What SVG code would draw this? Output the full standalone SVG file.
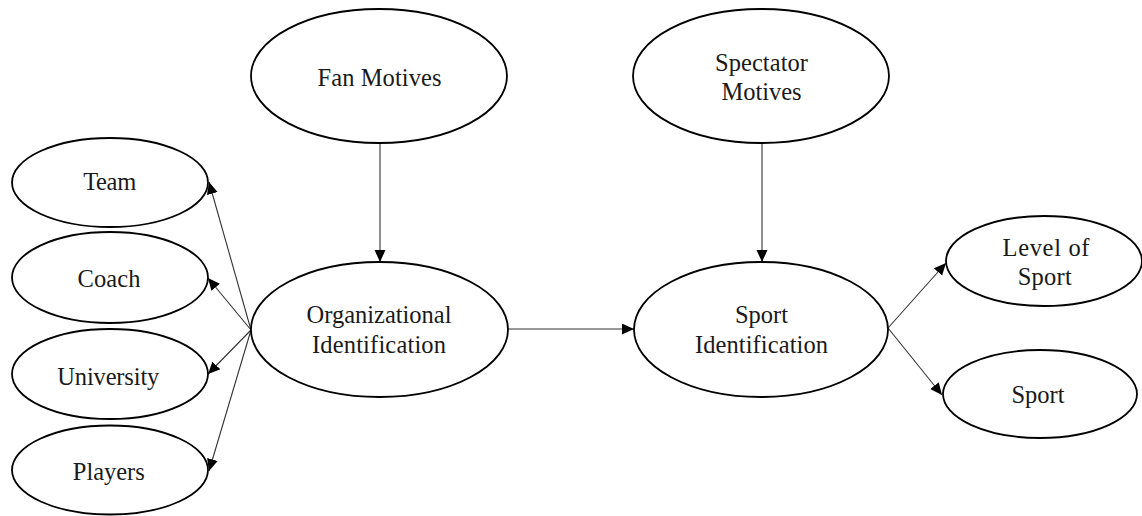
<svg xmlns="http://www.w3.org/2000/svg" width="1142" height="516" viewBox="0 0 1142 516">
<style>
.n{fill:#fff;stroke:#000;stroke-width:1.8}
.t{font-family:"Liberation Serif","Times New Roman",serif;font-size:24.5px;fill:#1a1a1a;text-anchor:middle}
.c{stroke:#333;stroke-width:1.1;fill:none;marker-end:url(#ah)}
</style>
<defs>
<marker id="ah" markerUnits="userSpaceOnUse" markerWidth="14" markerHeight="12" refX="12" refY="5.5" orient="auto">
<path d="M0,0 L12,5.5 L0,11 Z" fill="#000"/>
</marker>
</defs>
<rect width="1142" height="516" fill="#fff"/>
<g id="connectors">
<line class="c" x1="380" y1="143" x2="380" y2="262"/>
<line class="c" x1="762" y1="143" x2="762" y2="262"/>
<line class="c" x1="508" y1="329" x2="634" y2="329"/>
<line class="c" x1="251" y1="330" x2="209" y2="182"/>
<line class="c" x1="251" y1="330" x2="208" y2="278"/>
<line class="c" x1="251" y1="330" x2="208" y2="374"/>
<line class="c" x1="251" y1="330" x2="209" y2="471"/>
<line class="c" x1="888" y1="328" x2="946" y2="263"/>
<line class="c" x1="888" y1="328" x2="942" y2="395"/>
</g>
<g id="fan-motives">
<ellipse class="n" cx="379" cy="76" rx="128" ry="67"/>
<text class="t" x="379.5" y="86" textLength="124" lengthAdjust="spacing">Fan Motives</text>
</g>
<g id="spectator-motives">
<ellipse class="n" cx="761" cy="76" rx="128" ry="67"/>
<text class="t" x="761.5" y="71" textLength="93" lengthAdjust="spacing">Spectator</text>
<text class="t" x="761.5" y="100" textLength="80" lengthAdjust="spacing">Motives</text>
</g>
<g id="organizational-identification">
<ellipse class="n" cx="379.5" cy="329.5" rx="128.5" ry="67.5"/>
<text class="t" x="379" y="322.5" textLength="145" lengthAdjust="spacing">Organizational</text>
<text class="t" x="379" y="352.5" textLength="134" lengthAdjust="spacing">Identification</text>
</g>
<g id="sport-identification">
<ellipse class="n" cx="761" cy="329.5" rx="127" ry="67.5"/>
<text class="t" x="761.5" y="323" textLength="53" lengthAdjust="spacing">Sport</text>
<text class="t" x="761.5" y="352.5" textLength="133" lengthAdjust="spacing">Identification</text>
</g>
<g id="team">
<ellipse class="n" cx="110" cy="182.5" rx="98" ry="44.5"/>
<text class="t" x="109.7" y="190" textLength="53" lengthAdjust="spacing">Team</text>
</g>
<g id="coach">
<ellipse class="n" cx="110" cy="277.5" rx="98" ry="45.5"/>
<text class="t" x="109" y="287" textLength="63" lengthAdjust="spacing">Coach</text>
</g>
<g id="university">
<ellipse class="n" cx="110" cy="374" rx="98" ry="45"/>
<text class="t" x="108.3" y="385" textLength="102" lengthAdjust="spacing">University</text>
</g>
<g id="players">
<ellipse class="n" cx="110" cy="470" rx="98" ry="44.5"/>
<text class="t" x="108.8" y="480" textLength="72" lengthAdjust="spacing">Players</text>
</g>
<g id="level-of-sport">
<ellipse class="n" cx="1044" cy="261" rx="98" ry="45"/>
<text class="t" x="1046" y="256" textLength="87" lengthAdjust="spacing">Level of</text>
<text class="t" x="1044.7" y="285" textLength="54" lengthAdjust="spacing">Sport</text>
</g>
<g id="sport">
<ellipse class="n" cx="1040" cy="394" rx="97" ry="44"/>
<text class="t" x="1038" y="403" textLength="53" lengthAdjust="spacing">Sport</text>
</g>
</svg>
